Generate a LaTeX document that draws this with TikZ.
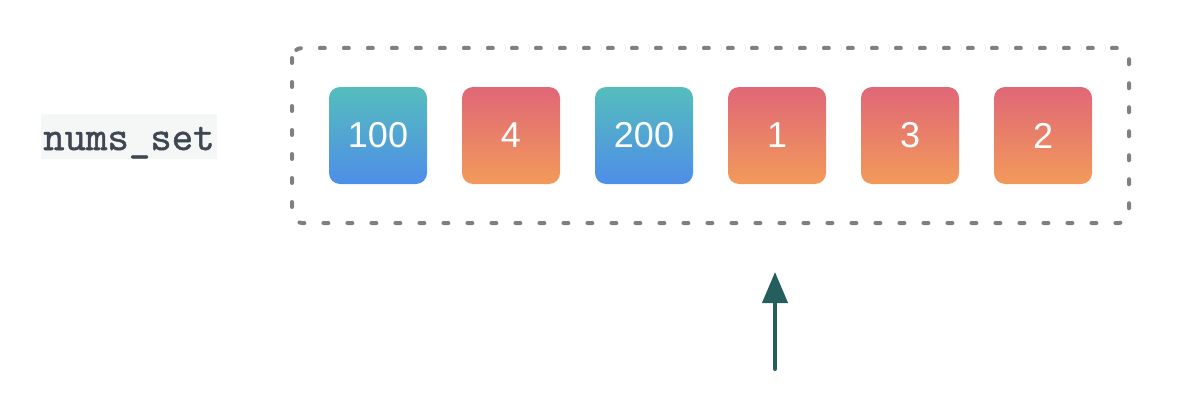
\documentclass[tikz,border=0pt]{standalone}
\usepackage{fontspec}
\setmainfont{Liberation Sans}
\newfontfamily\codefont[AutoFakeBold=1.2]{Latin Modern Mono}
\usetikzlibrary{positioning,arrows.meta}

\definecolor{warmtop}{HTML}{E06777}
\definecolor{warmbot}{HTML}{F29A5A}
\definecolor{cooltop}{HTML}{55BDBD}
\definecolor{coolbot}{HTML}{4E8EE8}
\definecolor{codegray}{HTML}{3F4752}
\definecolor{codebg}{HTML}{F5F6F6}
\definecolor{framegray}{HTML}{808080}
\definecolor{pointer}{HTML}{255E5E}

\tikzset{
  elem/.style={rounded corners=11pt, minimum width=98pt, minimum height=97pt,
    inner sep=0pt, text=white, font=\fontsize{36}{40}\selectfont},
  warm/.style={elem, top color=warmtop, bottom color=warmbot},
  cool/.style={elem, top color=cooltop, bottom color=coolbot}
}

\begin{document}
\begin{tikzpicture}[x=1pt, y=-1pt, node distance=34.6pt]
        \useasboundingbox (0,0) rectangle (1182,412);

        % Label
        \node[anchor=base west, fill=codebg, text=codegray, inner xsep=2pt, inner ysep=0pt,
          text height=36pt, text depth=9pt, font=\codefont\bfseries\fontsize{41.6}{44}\selectfont]
          (numsset) at (41,150) {nums\_set};

        % Set frame
        \draw[framegray, line width=4pt, line cap=round, dash pattern=on 5pt off 19pt,
          rounded corners=10pt] (292,48) rectangle (1129,223);

        % Nodes
        \node[cool] (v100) at (378,135.5) {100};
        \node[warm, right=of v100] (v4) {4};
        \node[cool, right=of v4] (v200) {200};
        \node[warm, right=of v200] (v1) {1};
        \node[warm, right=of v1] (v3) {3};
        \node[warm, right=of v3] (v2) {2};

        % Pointer
        \coordinate (ptrfoot) at (775,369);
        \coordinate (ptrtip) at (775,272);
        \draw[-{Triangle[length=31pt, width=25pt]}, pointer, line width=4pt, line cap=round]
          (ptrfoot) -- (ptrtip);
    \end{tikzpicture}
\end{document}
